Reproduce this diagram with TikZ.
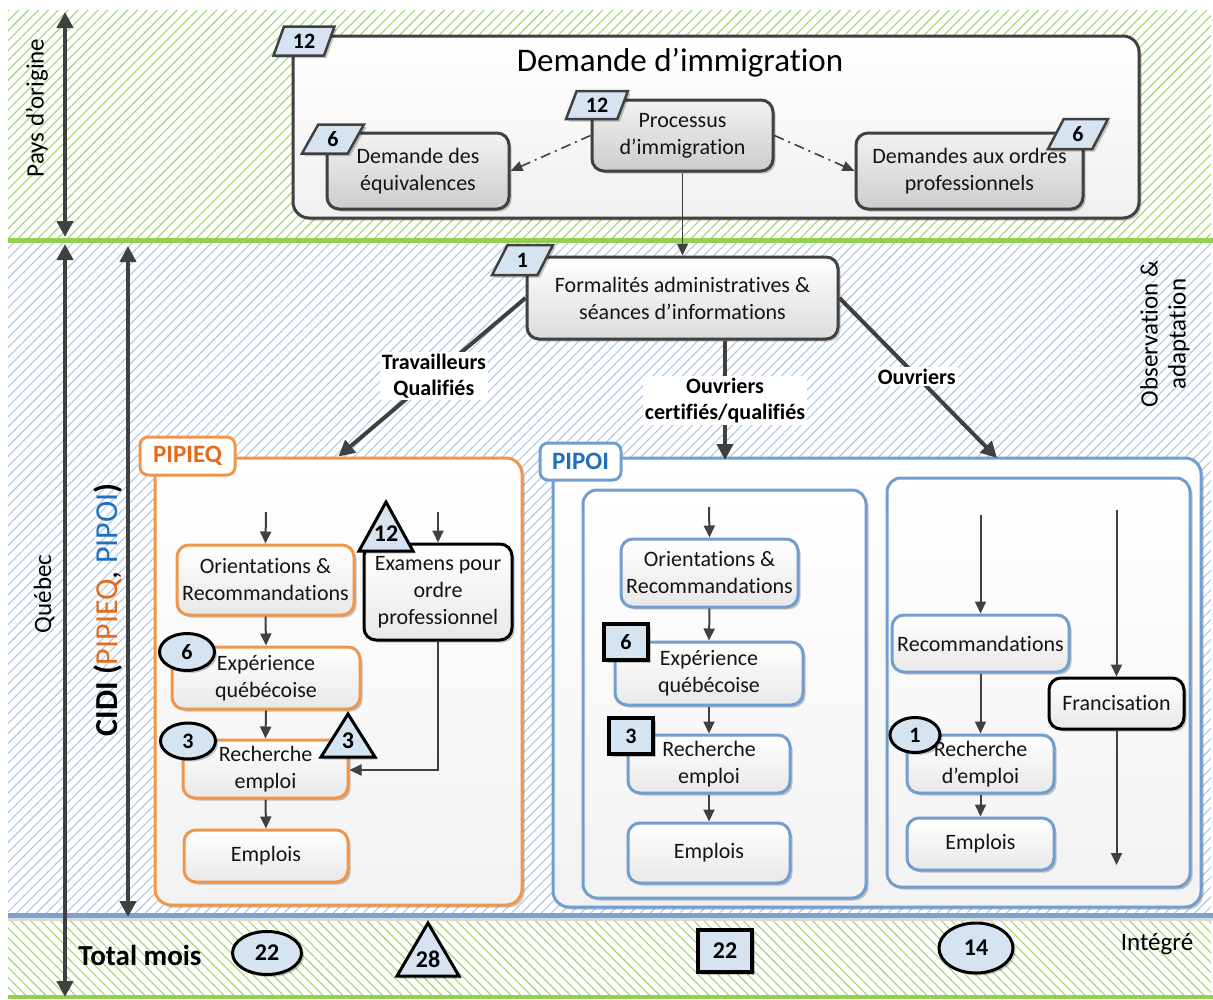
\documentclass[tikz,border=0pt]{standalone}
\usepackage{fontspec}
\setmainfont{Carlito}[Ligatures={NoCommon,NoRare,NoContextual},Contextuals=NoAlternate]
\usetikzlibrary{arrows.meta,patterns.meta,shapes.geometric,shadows}
\definecolor{dk}{RGB}{64,64,64}
\definecolor{grl}{RGB}{146,208,80}
\definecolor{grh}{RGB}{165,212,115}
\definecolor{blh}{RGB}{176,200,228}
\definecolor{bll}{RGB}{122,162,204}
\definecolor{orb}{RGB}{240,150,75}
\definecolor{ort}{RGB}{226,108,28}
\definecolor{blb}{RGB}{112,158,206}
\definecolor{blt}{RGB}{30,112,190}
\definecolor{badge}{RGB}{214,228,242}
\newcommand\myboxf{\fontsize{22}{27}\selectfont}
\newcommand\mylbf{\fontsize{25}{28}\selectfont}
\newcommand\mybdg{\bfseries\fontsize{22}{22}\selectfont}
\newcommand\mylabf{\bfseries\fontsize{22}{26}\selectfont}
\newcommand\mytabf{\bfseries\fontsize{25}{25}\selectfont}
\tikzset{
  shd/.style={drop shadow={shadow xshift=2.5pt,shadow yshift=-2.5pt,opacity=0.22,fill=black}},
  box/.style={draw=#1, line width=3pt, rounded corners=12pt, top color=white, bottom color=black!9,
    align=center, font=\myboxf, text=black!92, inner sep=0pt, shd},
  graybox/.style={top color=black!5, bottom color=black!20},
  sz/.style 2 args={minimum width=#1pt, minimum height=#2pt},
  para/.style={trapezium, trapezium left angle=68, trapezium right angle=112, trapezium stretches=true,
    draw=dk, line width=2.5pt, fill=badge, font=\mybdg, inner sep=0pt, shd},
  ellb/.style={ellipse, draw=black, line width=3pt, fill=badge, font=\mybdg, inner sep=0pt, shd},
  sqb/.style={rectangle, draw=black, line width=3.5pt, fill=badge, font=\mybdg, inner sep=0pt, shd},
  trib/.style={draw=black, line width=3pt, fill=badge, line join=miter, shd},
  tab/.style={draw=#1, fill=white, line width=3pt, rounded corners=8pt, font=\mytabf, inner sep=0pt},
  dblarr/.style={draw=dk, line width=4pt, {Triangle[length=16pt,width=16pt]}-{Triangle[length=16pt,width=16pt]}},
  bigarr/.style={draw=dk, line width=4pt, -{Triangle[length=16pt,width=16pt]}},
  sarr/.style={draw=dk, line width=2pt, -{Triangle[length=12pt,width=11pt]}},
  ddarr/.style={draw=dk, line width=1.6pt, dash pattern=on 10pt off 5pt on 2pt off 5pt, -{Triangle[length=12pt,width=10pt]}},
  lab/.style={fill=white, inner sep=2pt, align=center, font=\mylabf, text=black}
}
\begin{document}
\begin{tikzpicture}[x=1pt,y=-1pt]
\useasboundingbox (0,0) rectangle (1213,999);
\fill[white] (0,0) rectangle (1213,999);
% bands
\fill[pattern={Lines[angle=45,distance=7pt,line width=1.1pt]},pattern color=grh] (8,10) rectangle (1211,238);
\fill[pattern={Lines[angle=45,distance=7pt,line width=1.1pt]},pattern color=blh] (8,242) rectangle (1211,912);
\fill[pattern={Lines[angle=-45,distance=7pt,line width=1.1pt]},pattern color=grh] (8,918) rectangle (1211,995);
\draw[grl,line width=5pt] (8,240) -- (1213,240);
\draw[black!15,line width=3pt] (8,919) -- (1213,919);
\draw[bll,line width=5pt] (8,915) -- (1213,915);
\draw[grl,line width=4pt] (8,997) -- (1213,997);

% left arrows
\coordinate (pt1) at (65,12); \coordinate (pb1) at (65,237);
\coordinate (qt) at (65,244); \coordinate (qb) at (65,997);
\coordinate (ct) at (128,246); \coordinate (cb) at (128,917);
\draw[dblarr] (pt1) -- (pb1);
\draw[dblarr] (qt) -- (qb);
\draw[dblarr] (ct) -- (cb);
\node[rotate=90, font=\mylbf] (pays) at (37,108) {Pays d’origine};
\node[rotate=90, font=\mylbf] (queb) at (44,594) {Québec};
\node[rotate=90, font=\fontsize{32}{34}\selectfont] (cidi) at (108,610)
  {{\bfseries CIDI (}\textcolor{ort}{PIPIEQ}, \textcolor{blt}{PIPOI}{\bfseries )}};
\node[rotate=90, font=\mylbf, align=center] (obs) at (1165,334) {Observation \&\\adaptation};

% top
\node[box=dk, top color=white, bottom color=black!6, sz={846}{182}, rounded corners=16pt] (demimm) at (716,127) {};
\node[font=\fontsize{33}{36}\selectfont] (title) at (680,63) {Demande d’immigration};
\node[para, sz={61}{29}] (p12a) at (304,41) {12};
\node[box=dk, graybox, sz={181}{71}] (proc) at (682.5,135.5) {Processus\\d’immigration};
\node[para, sz={62}{28}] (p12b) at (597,105) {12};
\node[box=dk, graybox, sz={182}{76}] (eq) at (418,171) {Demande des\\équivalences};
\node[para, sz={62}{29}] (p6a) at (333,139) {6};
\node[box=dk, graybox, sz={227}{76}] (ord) at (969.5,171) {Demandes aux ordres\\professionnels};
\node[para, sz={60}{30}] (p6b) at (1078,134) {6};
\draw[ddarr] (proc.west) -- (eq.east);
\draw[ddarr] (proc.east) -- (ord.west);

% formalites
\node[box=dk, top color=white, bottom color=black!14, sz={311}{82}] (form) at (682.5,298) {Formalités administratives \&\\séances d’informations};
\node[para, sz={61}{30}] (p1) at (522.5,260) {1};
\draw[sarr, line width=1.6pt] (proc.south) -- (form.north);

% PIPIEQ
\node[box=orb, top color=white, bottom color=black!5, sz={367}{447}, rounded corners=16pt] (pipieq) at (338.5,681.5) {};
\node[tab=orb, text=ort, sz={95}{38}] (tabq) at (187.5,456) {PIPIEQ};
% PIPOI
\node[box=blb, top color=white, bottom color=black!5, sz={648}{449}, rounded corners=16pt] (pipoi) at (877,682.5) {};
\node[tab=blb, text=blt, sz={81}{37}] (tabo) at (580.5,461.5) {PIPOI};
\node[box=blb, top color=white, bottom color=black!5, sz={283}{408}, rounded corners=14pt] (inl) at (724.5,694) {};
\node[box=blb, top color=white, bottom color=black!5, sz={303}{409}, rounded corners=14pt] (inr) at (1038.5,682.5) {};

% main connectors
\coordinate (ocT) at (725,460);
\coordinate (ouT) at (997,458);
\draw[bigarr] (form.west) -- node[lab, pos=0.49] (ltq) {Travailleurs\\Qualifiés} (pipieq.north);
\draw[bigarr] (form.south -| ocT) -- node[lab, pos=0.5] (loc) {Ouvriers\\certifiés/qualifiés} (ocT);
\draw[bigarr] (form.east) -- node[lab, pos=0.49] (lou) {Ouvriers} (ouT);

% PIPIEQ content
\node[box=orb, sz={177}{70}] (o1) at (265.5,580) {Orientations \&\\Recommandations};
\node[box=orb, sz={188}{62}] (x1) at (266,678) {Expérience\\québécoise};
\node[box=orb, sz={165}{58}] (r1) at (265.5,769) {Recherche\\emploi};
\node[box=orb, sz={164}{52}] (e1) at (266,856) {Emplois};
\node[box=black, sz={148}{96}] (ex) at (438,592) {Examens pour\\ordre\\professionnel};
\coordinate (a1) at (266,512);
\coordinate (a2) at (438,512);
\coordinate (exc) at (438,770);
\draw[sarr] (a1) -- (o1.north);
\draw[sarr] (o1.south) -- (x1.north);
\draw[sarr] (x1.south) -- (r1.north);
\draw[sarr] (r1.south) -- (e1.north);
\draw[sarr] (a2) -- (ex.north);
\draw[sarr] (ex.south) -- (exc) -- (exc -| r1.east);
\node[ellb, sz={55}{37}] (b6) at (187,652) {6};
\node[ellb, sz={55}{36}] (b3) at (188,741) {3};
\draw[trib] (386,502) -- (413,551) -- (359,551) -- cycle;
\node[font=\bfseries\fontsize{24}{24}\selectfont] (t12) at (386,534) {12};
\draw[trib] (348,714) -- (375,757) -- (321,757) -- cycle;
\node[font=\bfseries\fontsize{24}{24}\selectfont] (t3) at (348,741) {3};

% PIPOI left
\node[box=blb, sz={177}{68}] (o2) at (709.5,573) {Orientations \&\\Recommandations};
\node[box=blb, sz={188}{63}] (x2) at (709,673.5) {Expérience\\québécoise};
\node[box=blb, sz={162}{58}] (r2) at (709,764) {Recherche\\emploi};
\node[box=blb, sz={162}{60}] (e2) at (709,853) {Emplois};
\coordinate (a3) at (709,507);
\draw[sarr] (a3) -- (o2.north);
\draw[sarr] (o2.south) -- (x2.north);
\draw[sarr] (x2.south) -- (r2.north);
\draw[sarr] (r2.south) -- (e2.north);
\node[sqb, sz={44}{36}] (s6) at (626,642) {6};
\node[sqb, sz={44}{36}] (s3) at (631,736) {3};

% PIPOI right
\node[box=blb, sz={177}{57}] (rc) at (980.5,643.5) {Recommandations};
\node[box=blb, sz={147}{58}] (r3) at (980.5,764) {Recherche\\d’emploi};
\node[box=blb, sz={147}{52}] (e3) at (980.5,844) {Emplois};
\node[box=black, sz={135}{51}] (fr) at (1116.5,703.5) {Francisation};
\coordinate (a4) at (980.5,515);
\coordinate (a5) at (1116.5,510);
\coordinate (a6) at (1116.5,865);
\draw[sarr] (a4) -- (rc.north);
\draw[sarr] (rc.south) -- (r3.north);
\draw[sarr] (r3.south) -- (e3.north);
\draw[sarr] (a5) -- (fr.north);
\draw[sarr] (fr.south) -- (a6);
\node[ellb, sz={50}{35}] (c1) at (915,735) {1};

% bottom
\node[font=\bfseries\fontsize{29}{30}\selectfont] (tot) at (140,955) {Total mois};
\node[ellb, sz={69}{43}, font=\bfseries\fontsize{24}{24}\selectfont] (e22) at (267,953) {22};
\draw[trib] (428,923) -- (459,976) -- (397,976) -- cycle;
\node[font=\bfseries\fontsize{24}{24}\selectfont] (t28) at (428,959) {28};
\node[sqb, sz={54}{42}, font=\bfseries\fontsize{24}{24}\selectfont] (s22) at (725,951) {22};
\node[ellb, sz={74}{50}, font=\bfseries\fontsize{24}{24}\selectfont] (e14) at (976,948) {14};
\node[font=\mylbf] (integ) at (1157,944) {Intégré};
\end{tikzpicture}
\end{document}
